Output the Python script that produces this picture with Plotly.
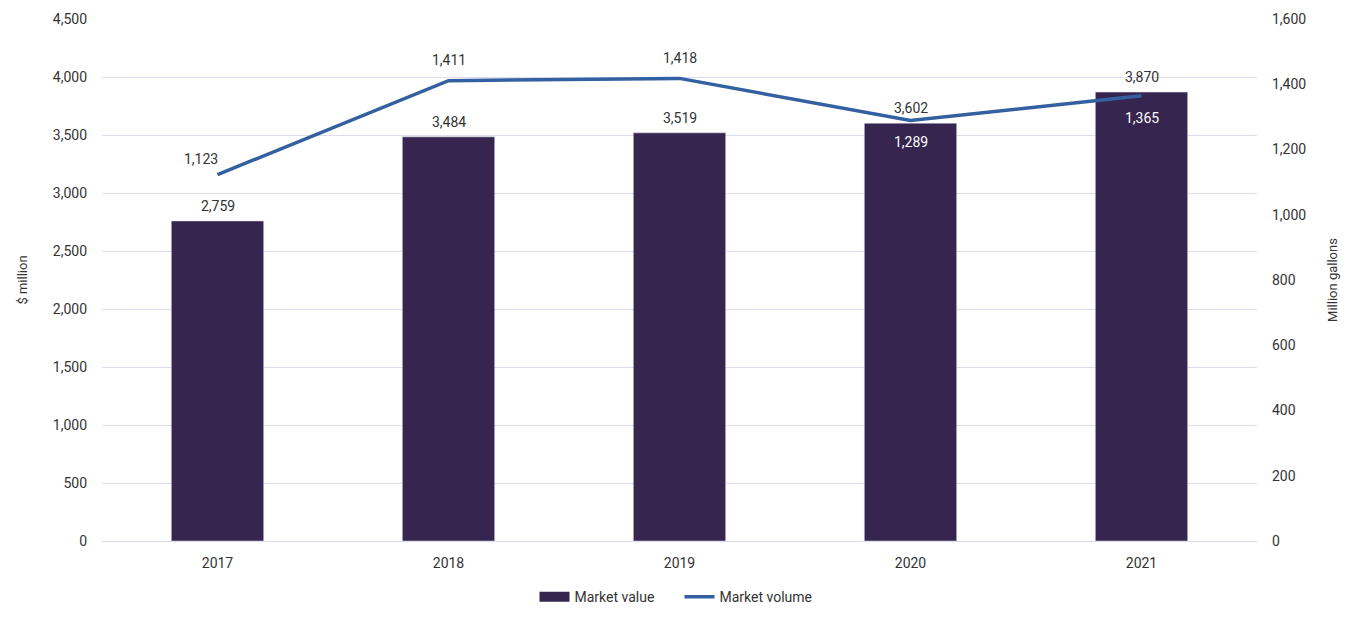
import plotly.graph_objects as go

years = ["2017", "2018", "2019", "2020", "2021"]
market_value = [2759, 3484, 3519, 3602, 3870]
market_volume = [1123, 1411, 1418, 1289, 1365]

# label offsets (px) for the volume labels, and their colour
volume_label_shift = [(-17, 16), (0, 21), (0, 20), (0, -22), (0, -22)]
volume_label_color = ["#333333", "#333333", "#333333", "#ffffff", "#ffffff"]

bar_color = "#35254f"
line_color = "#3360a0"
font_family = "Roboto, Noto Sans, sans-serif"

fig = go.Figure()

fig.add_trace(go.Bar(
    x=years, y=market_value, name="Market value",
    marker=dict(color=bar_color), width=0.4, showlegend=False,
))

fig.add_trace(go.Scatter(
    x=years, y=market_volume, name="Market volume", yaxis="y2",
    mode="lines", line=dict(color=line_color, width=3.5), showlegend=False,
))

# legend entries (wide swatch for the bars like the original)
fig.add_trace(go.Scatter(x=years[:1], y=[None], mode="lines", name="Market value",
                         line=dict(color=bar_color, width=10)))
fig.add_trace(go.Scatter(x=years[:1], y=[None], mode="lines", name="Market volume",
                         line=dict(color=line_color, width=3.5)))

# category positions by index (numeric-looking strings confuse annotations)
for i, v in enumerate(market_value):
    fig.add_annotation(x=i, y=v, xref="x", yref="y", text=f"{v:,}",
                       showarrow=False, yshift=15, font=dict(size=14, color="#333333"))

for i, (v, (dx, dy), c) in enumerate(zip(market_volume, volume_label_shift, volume_label_color)):
    fig.add_annotation(x=i, y=v, xref="x", yref="y2", text=f"{v:,}",
                       showarrow=False, xshift=dx, yshift=dy, font=dict(size=14, color=c))

fig.update_layout(
    width=1358, height=622,
    margin=dict(l=94, r=109, t=11, b=89),
    paper_bgcolor="white", plot_bgcolor="white",
    font=dict(family=font_family, size=14, color="#333333"),
    legend=dict(orientation="h", x=0.5, xanchor="center", y=-0.077, yanchor="top",
                font=dict(size=14), itemwidth=30, entrywidth=100, tracegroupgap=0),
    xaxis=dict(type="category", categoryorder="array", categoryarray=years,
               range=[-0.5, len(years) - 0.5], showgrid=False, showline=True,
               linecolor="#d9d9ea", ticks="", ticklabelstandoff=9, automargin=False),
    yaxis=dict(title=dict(text="$ million", standoff=22, font=dict(size=13)),
               range=[0, 4500], dtick=500,
               tickformat=",", gridcolor="#dcdcee", zeroline=False,
               ticklabelstandoff=14, automargin=False),
    yaxis2=dict(title=dict(text="Million gallons", standoff=22, font=dict(size=13)),
                range=[0, 1600], dtick=200,
                tickformat=",", overlaying="y", side="right", showgrid=False,
                zeroline=False, ticklabelstandoff=14, automargin=False),
)

fig.write_html("out.html")
